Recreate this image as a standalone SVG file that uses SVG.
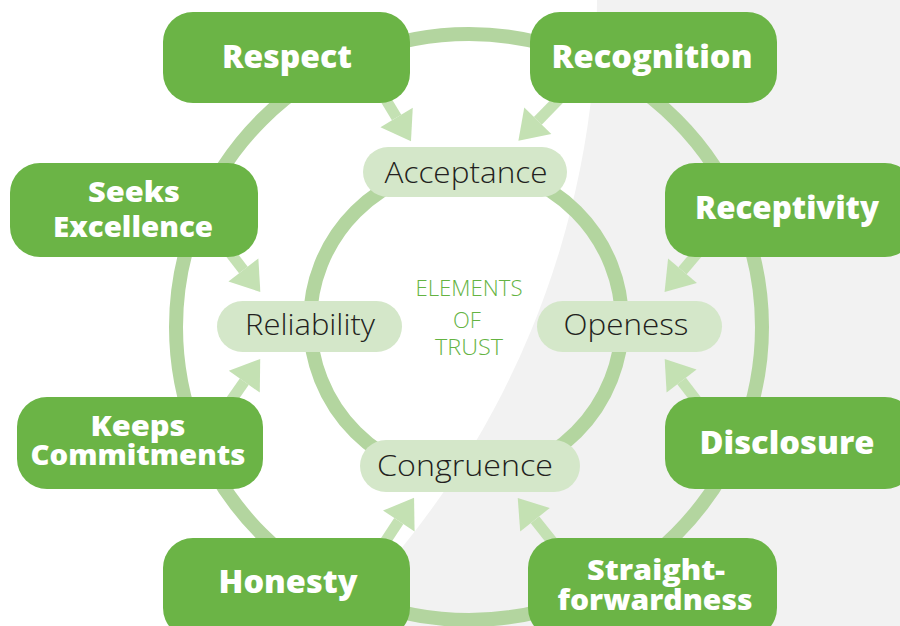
<svg xmlns="http://www.w3.org/2000/svg" width="900" height="626" viewBox="0 0 900 626">
  <style>
    .ring { fill: none; stroke: #b3d59f; stroke-width: 14; }
    .arrow { stroke: #c4e1b3; stroke-width: 11; fill: none; }
    .box { fill: #6bb446; }
    .pill { fill: #d4e7c9; }
    .boxlabel { font-family: "Open Sans", "Liberation Sans", sans-serif; font-weight: 800; font-size: 31px; fill: #ffffff; text-anchor: middle; }
    .two { font-size: 28px; }
    .pilllabel { font-family: "Open Sans", "Lato", "Liberation Sans", sans-serif; font-weight: 300; font-size: 30px; fill: #231f20; text-anchor: middle; }
    .center { font-family: "Open Sans", "Lato", "Liberation Sans", sans-serif; font-weight: 300; font-size: 22px; fill: #64b342; text-anchor: middle; }
  </style>
  <defs>
    <marker id="head" markerUnits="userSpaceOnUse" markerWidth="30" markerHeight="40" refX="0" refY="0" viewBox="0 -18 26 36" orient="auto">
      <path d="M0,-17 L25,0 L0,17 Z" fill="#c4e1b3"/>
    </marker>
  </defs>

  <!-- backdrop -->
  <rect x="0" y="0" width="900" height="626" fill="#f2f2f2"/>
  <circle cx="-275" cy="-2" r="872" fill="#ffffff"/>

  <!-- rings and arrows -->
  <g id="connectors">
    <circle class="ring" cx="469" cy="327" r="293"/>
    <circle class="ring" cx="466" cy="322" r="156"/>
    <line class="arrow" x1="383" y1="95" x2="396.6" y2="117.5" marker-end="url(#head)"/>
    <line class="arrow" x1="563" y1="95" x2="537.8" y2="120.8" marker-end="url(#head)"/>
    <line class="arrow" x1="700" y1="250" x2="682.5" y2="270.7" marker-end="url(#head)"/>
    <line class="arrow" x1="228" y1="250" x2="243.4" y2="270" marker-end="url(#head)"/>
    <line class="arrow" x1="228" y1="405" x2="244.3" y2="381.7" marker-end="url(#head)"/>
    <line class="arrow" x1="700" y1="405" x2="681.6" y2="381" marker-end="url(#head)"/>
    <line class="arrow" x1="383" y1="545" x2="398.8" y2="521" marker-end="url(#head)"/>
    <line class="arrow" x1="555" y1="545" x2="535" y2="519.8" marker-end="url(#head)"/>
  </g>

  <!-- inner elements -->
  <g id="acceptance">
    <rect class="pill" x="363" y="147" width="204" height="50" rx="25"/>
    <text class="pilllabel" x="466" y="183" textLength="163" lengthAdjust="spacingAndGlyphs">Acceptance</text>
  </g>
  <g id="reliability">
    <rect class="pill" x="217" y="301" width="185" height="51" rx="25.5"/>
    <text class="pilllabel" x="310" y="335" textLength="130" lengthAdjust="spacingAndGlyphs">Reliability</text>
  </g>
  <g id="openess">
    <rect class="pill" x="537" y="301" width="185" height="51" rx="25.5"/>
    <text class="pilllabel" x="626" y="335" textLength="125" lengthAdjust="spacingAndGlyphs">Openess</text>
  </g>
  <g id="congruence">
    <rect class="pill" x="360" y="440" width="220" height="52" rx="26"/>
    <text class="pilllabel" x="465" y="476" textLength="176" lengthAdjust="spacingAndGlyphs">Congruence</text>
  </g>

  <g id="title">
    <text class="center" x="469" y="296" textLength="107" lengthAdjust="spacingAndGlyphs">ELEMENTS</text>
    <text class="center" x="467" y="328">OF</text>
    <text class="center" x="469" y="355" textLength="68" lengthAdjust="spacingAndGlyphs">TRUST</text>
  </g>

  <!-- outer behaviours -->
  <g id="respect">
    <rect class="box" x="163" y="12" width="247" height="91" rx="30"/>
    <text class="boxlabel" x="287" y="68" textLength="130" lengthAdjust="spacingAndGlyphs">Respect</text>
  </g>
  <g id="recognition">
    <rect class="box" x="530" y="12" width="247" height="91" rx="30"/>
    <text class="boxlabel" x="652" y="68" textLength="201" lengthAdjust="spacingAndGlyphs">Recognition</text>
  </g>
  <g id="receptivity">
    <rect class="box" x="665" y="163" width="250" height="94" rx="30"/>
    <text class="boxlabel" x="787" y="219" textLength="184" lengthAdjust="spacingAndGlyphs">Receptivity</text>
  </g>
  <g id="seeks-excellence">
    <rect class="box" x="10" y="163" width="248" height="94" rx="30"/>
    <text class="boxlabel two" x="134" y="202" textLength="92" lengthAdjust="spacingAndGlyphs">Seeks</text>
    <text class="boxlabel two" x="133" y="237" textLength="160" lengthAdjust="spacingAndGlyphs">Excellence</text>
  </g>
  <g id="keeps-commitments">
    <rect class="box" x="17" y="397" width="246" height="92" rx="30"/>
    <text class="boxlabel two" x="138" y="436" textLength="95" lengthAdjust="spacingAndGlyphs">Keeps</text>
    <text class="boxlabel two" x="138" y="465" textLength="215" lengthAdjust="spacingAndGlyphs">Commitments</text>
  </g>
  <g id="disclosure">
    <rect class="box" x="665" y="397" width="250" height="92" rx="30"/>
    <text class="boxlabel" x="787" y="454" textLength="175" lengthAdjust="spacingAndGlyphs">Disclosure</text>
  </g>
  <g id="honesty">
    <rect class="box" x="163" y="538" width="247" height="100" rx="30"/>
    <text class="boxlabel" x="288" y="593" textLength="139" lengthAdjust="spacingAndGlyphs">Honesty</text>
  </g>
  <g id="straightforwardness">
    <rect class="box" x="528" y="538" width="249" height="100" rx="30"/>
    <text class="boxlabel two" x="656" y="580" textLength="138" lengthAdjust="spacingAndGlyphs">Straight-</text>
    <text class="boxlabel two" x="655" y="610" textLength="195" lengthAdjust="spacingAndGlyphs">forwardness</text>
  </g>
</svg>
